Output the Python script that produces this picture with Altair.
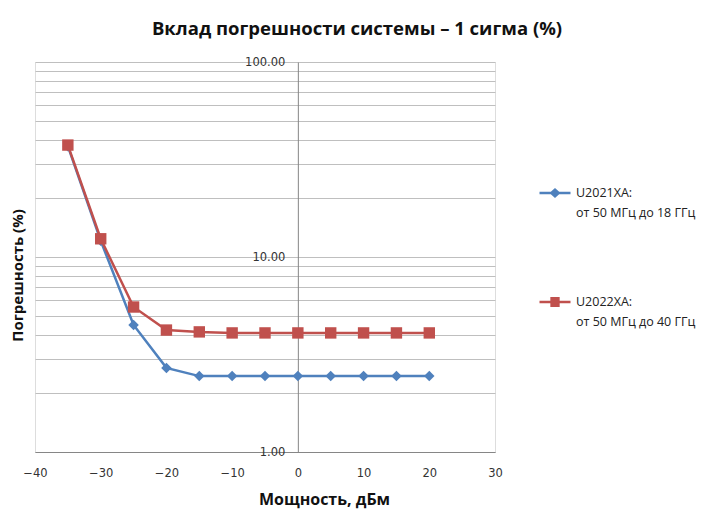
import altair as alt
import pandas as pd

power_dbm = [-35, -30, -25, -20, -15, -10, -5, 0, 5, 10, 15, 20]
u2021xa = [37.0, 12.1, 4.48, 2.70, 2.45, 2.45, 2.45, 2.45, 2.45, 2.45, 2.45, 2.45]
u2022xa = [37.5, 12.4, 5.54, 4.22, 4.13, 4.08, 4.08, 4.08, 4.08, 4.08, 4.08, 4.08]
series_names = ["U2021XA:|от 50 МГц до 18 ГГц", "U2022XA:|от 50 МГц до 40 ГГц"]
series_colors = ["#4F81BD", "#C0504D"]
x_ticks = [-40, -30, -20, -10, 0, 10, 20, 30]
y_grid = [1, 2, 3, 4, 5, 6, 7, 8, 9, 10, 20, 30, 40, 50, 60, 70, 80, 90, 100]

rows = []
for name, vals in zip(series_names, [u2021xa, u2022xa]):
    for x, v in zip(power_dbm, vals):
        rows.append({"x": x, "v": v, "s": name})
df = pd.DataFrame(rows)

TFONT = "Open Sans"
LFONT = "DejaVu Sans"
W, H = 460, 390

xenc = alt.X("x:Q", scale=alt.Scale(domain=[-40, 30], nice=False),
             axis=alt.Axis(values=x_ticks, grid=False, ticks=False, domainColor="#868686",
                           labelFlush=False, labelPadding=21, labelBaseline="middle",
                           labelFont=LFONT, labelFontSize=11.5, labelColor="#333333",
                           title="Мощность, дБм", titleFont=TFONT, titleFontSize=16,
                           titleFontWeight="bold", titleColor="#111111",
                           titleX=289, titleY=47, titleBaseline="middle", titleAlign="center"))
yenc = alt.Y("v:Q", scale=alt.Scale(type="log", domain=[1, 100], nice=False),
             axis=alt.Axis(values=y_grid, grid=True, gridColor="#BFBFBF", ticks=False,
                           domainColor="#868686", offset=-W * 40 / 70,
                           labelExpr="indexof([1,10,100], datum.value) >= 0 ? format(datum.value, '.2f') : ''",
                           labelPadding=13, labelBaseline="middle", labelFont=LFONT,
                           labelFontSize=11.5, labelColor="#333333",
                           title="Погрешность (%)", titleFont=TFONT, titleFontSize=15,
                           titleFontWeight="bold", titleColor="#111111",
                           titleX=-280, titleY=213, titleAngle=270,
                           titleAlign="center", titleBaseline="middle"))

paths = ["M-1,0H1M0,-0.22L0.24,0L0,0.22L-0.24,0Z", "M-1,0H1M-0.22,-0.24H0.22V0.24H-0.22Z"]
leg = alt.Legend(title=None, orient="none", legendX=503, legendY=114,
                 symbolSize=961, symbolStrokeWidth=2.5, labelFont=TFONT,
                 labelFontSize=12.5, labelColor="#222222", labelOffset=4,
                 labelExpr="split(datum.label, '|')", rowPadding=65, labelLimit=400)
color = alt.Color("s:N", scale=alt.Scale(domain=series_names, range=series_colors), legend=leg)

base = alt.Chart(df)
lines = base.mark_line(strokeWidth=2.5).encode(x=xenc, y=yenc, color=color, detail="s:N")
pts_b = base.mark_point(shape="diamond", filled=True, size=110, opacity=1).encode(
    x="x:Q", y="v:Q", color=color).transform_filter(alt.datum.s == series_names[0])
pts_r = base.mark_point(shape="square", filled=True, size=130, opacity=1).encode(
    x="x:Q", y="v:Q", color=color).transform_filter(alt.datum.s == series_names[1])
legend_layer = base.mark_point(filled=True, opacity=0, strokeWidth=2.5).encode(
    x="x:Q", y="v:Q", color=color,
    shape=alt.Shape("s:N", scale=alt.Scale(domain=series_names, range=paths), legend=leg),
)

chart = alt.layer(lines, pts_b, pts_r, legend_layer).properties(
    width=W, height=H,
    title=alt.TitleParams("Вклад погрешности системы – 1 сигма (%)", font=TFONT, fontSize=18.5,
                          fontWeight="bold", color="#111111", anchor="middle", frame="group",
                          dx=92, offset=3, baseline="alphabetic"),
    autosize=alt.AutoSizeParams(type="none"),
    padding={"left": 27, "top": 54, "right": 203, "bottom": 71},
).configure_view(strokeWidth=0).configure(
    background="white", style={"guide-label": {"lineHeight": 20}})

chart.save("out.html", embed_options={"renderer": "svg", "actions": False})
